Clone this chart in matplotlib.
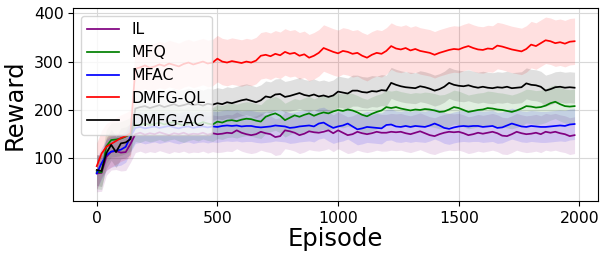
import numpy as np
import matplotlib
matplotlib.use("Agg")
import matplotlib.pyplot as plt

episodes = np.arange(0, 2000, 20)

labels = ["IL", "MFQ", "MFAC", "DMFG-QL", "DMFG-AC"]
colors = ["purple", "green", "blue", "red", "black"]

il = [
    69, 70, 103, 114, 115, 112, 113, 130, 150, 153,
    149, 152, 150, 154, 151, 148, 152, 150, 153, 149,
    151, 150, 153, 149, 152, 150, 151, 153, 152, 158,
    153, 150, 148, 150, 155, 152, 150, 144, 146, 158,
    156, 153, 148, 151, 156, 154, 153, 155, 158, 152,
    158, 153, 148, 150, 155, 152, 150, 152, 155, 153,
    153, 155, 154, 155, 152, 150, 153, 156, 152, 148,
    146, 150, 153, 155, 154, 155, 152, 148, 150, 153,
    151, 153, 155, 152, 147, 146, 150, 155, 152, 150,
    151, 153, 150, 155, 153, 155, 152, 150, 146, 148,
]
mfq = [
    72, 71, 125, 138, 139, 141, 145, 150, 170, 168,
    172, 169, 171, 174, 170, 173, 175, 171, 168, 172,
    174, 171, 175, 172, 170, 176, 174, 178, 179, 177,
    180, 182, 181, 178, 176, 186, 190, 193, 188, 179,
    184, 189, 186, 190, 193, 188, 192, 195, 193, 197,
    200, 198, 201, 199, 195, 190, 187, 192, 196, 199,
    206, 204, 206, 203, 201, 199, 201, 200, 202, 201,
    199, 196, 197, 201, 206, 204, 200, 196, 198, 200,
    201, 204, 203, 201, 200, 198, 196, 199, 203, 208,
    207, 205, 206, 209, 214, 217, 212, 208, 207, 208,
]
mfac = [
    69, 90, 107, 114, 116, 118, 124, 145, 163, 165,
    162, 164, 166, 163, 165, 167, 164, 162, 165, 166,
    163, 165, 166, 164, 166, 165, 167, 168, 167, 168,
    166, 167, 167, 165, 164, 165, 166, 168, 167, 166,
    163, 164, 166, 167, 168, 166, 172, 174, 168, 163,
    166, 168, 172, 166, 160, 162, 165, 164, 163, 162,
    169, 170, 166, 165, 167, 165, 167, 166, 165, 168,
    172, 168, 163, 161, 164, 166, 167, 166, 167, 167,
    165, 166, 167, 163, 164, 168, 172, 169, 166, 165,
    167, 166, 165, 165, 166, 167, 168, 167, 170, 171,
]
dmfg_ql = [
    84, 110, 124, 130, 136, 142, 146, 152, 285, 288,
    292, 287, 290, 294, 291, 296, 293, 290, 295, 298,
    294, 297, 300, 296, 298, 306, 300, 298, 301, 299,
    297, 300, 298, 302, 312, 314, 311, 316, 313, 320,
    316, 318, 312, 315, 308, 312, 318, 328, 324, 320,
    317, 322, 320, 316, 318, 312, 308, 314, 318, 316,
    322, 332, 327, 325, 328, 323, 326, 322, 320, 318,
    314, 318, 321, 324, 326, 325, 329, 332, 328, 325,
    324, 327, 326, 333, 331, 328, 325, 323, 321, 326,
    335, 332, 338, 344, 342, 338, 340, 337, 341, 342,
]
dmfg_ac = [
    76, 74, 111, 128, 113, 131, 133, 140, 203, 206,
    208, 204, 207, 210, 206, 209, 212, 208, 210, 213,
    210, 212, 209, 213, 211, 214, 212, 216, 214, 217,
    220, 222, 219, 216, 220, 228, 226, 232, 233, 227,
    229, 232, 235, 231, 229, 232, 228, 230, 227, 230,
    238, 236, 234, 240, 240, 237, 236, 239, 238, 241,
    240, 256, 252, 249, 247, 246, 245, 249, 247, 244,
    240, 243, 248, 256, 252, 250, 249, 251, 248, 246,
    248, 246, 245, 247, 246, 248, 245, 246, 247, 255,
    252, 251, 248, 240, 243, 247, 248, 246, 247, 246,
]
# half-width of the shaded band for each series
spreads = [38, 35, 32, 48, 32]

series = [il, mfq, mfac, dmfg_ql, dmfg_ac]

fig = plt.figure(figsize=(6.05, 2.58), dpi=100)
ax = fig.add_axes([0.1212, 0.2209, 0.8672, 0.7469])

for vals, lab, col, sp in zip(series, labels, colors, spreads):
    v = np.asarray(vals, dtype=float)
    x = episodes[:len(v)]
    ax.fill_between(x, v - sp, v + sp, color=col, alpha=0.12, linewidth=0)
    ax.plot(x, v, color=col, lw=1.25, label=lab)

ax.set_xlim(-97, 2077)
ax.set_ylim(12, 410)
ax.set_xticks([0, 500, 1000, 1500, 2000])
ax.set_yticks([100, 200, 300, 400])
ax.tick_params(labelsize=11.3)
ax.grid(True, color="#d8d8d8", lw=0.8)
ax.set_axisbelow(True)
ax.set_xlabel("Episode", fontsize=17.5, labelpad=1)
ax.set_ylabel("Reward", fontsize=17.5, labelpad=5)
ax.legend(loc="upper left", fontsize=11.3)

fig.savefig("out.png", dpi=100)
